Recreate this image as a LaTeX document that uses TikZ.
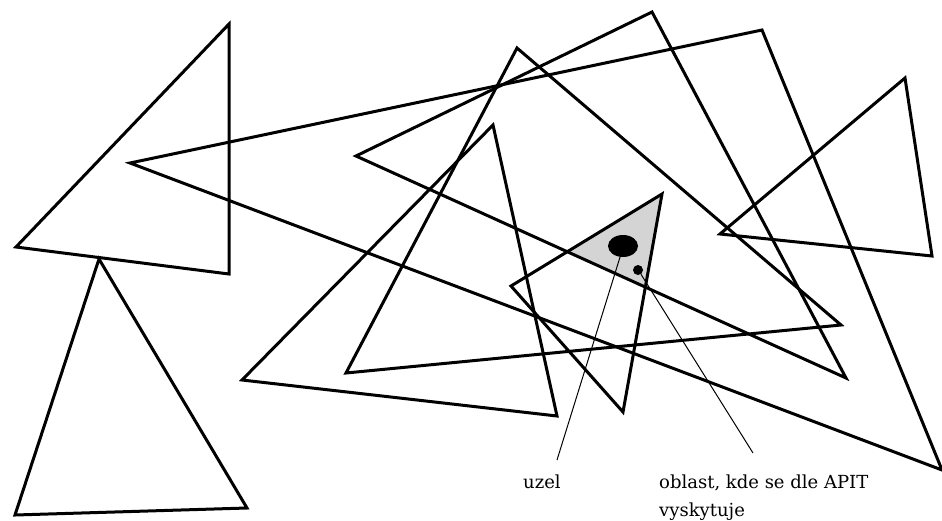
\documentclass[tikz,border=0pt]{standalone}
\usepackage{fontspec}
\setmainfont{DejaVu Serif}
\usetikzlibrary{shapes.geometric}
\begin{document}
\begin{tikzpicture}[x=1pt,y=-1pt,
  tri/.style={draw=black,line width=3pt,line join=miter},
  leader/.style={draw=black,line width=1pt},
  lbl/.style={font=\fontsize{18}{28}\selectfont,inner sep=0pt,anchor=base west,text=black}]
\useasboundingbox[fill=white] (0,0) rectangle (942,520);
% vertices
\coordinate (a1) at (229,24);  \coordinate (a2) at (229,274); \coordinate (a3) at (16,247);
\coordinate (b1) at (99,259);  \coordinate (b2) at (15,515);  \coordinate (b3) at (247,508);
\coordinate (c1) at (130,163); \coordinate (c2) at (762,30);  \coordinate (c3) at (942,470);
\coordinate (d1) at (652,12);  \coordinate (d2) at (356,156); \coordinate (d3) at (846,378);
\coordinate (e1) at (517,48);  \coordinate (e2) at (346,373); \coordinate (e3) at (841,325);
\coordinate (f1) at (493,125); \coordinate (f2) at (242,380); \coordinate (f3) at (557,416);
\coordinate (g1) at (905,78);  \coordinate (g2) at (720,234); \coordinate (g3) at (932,256);
\coordinate (h1) at (662,194); \coordinate (h2) at (511,286); \coordinate (h3) at (623,412);
% shaded intersection region
\begin{scope}
  \clip (d1) -- (d2) -- (d3) -- cycle;
  \fill[black!17] (h1) -- (h2) -- (h3) -- cycle;
\end{scope}
% triangles
\draw[tri] (a1) -- (a2) -- (a3) -- cycle;
\draw[tri] (b1) -- (b2) -- (b3) -- cycle;
\draw[tri] (c1) -- (c2) -- (c3) -- cycle;
\draw[tri] (d1) -- (d2) -- (d3) -- cycle;
\draw[tri] (e1) -- (e2) -- (e3) -- cycle;
\draw[tri] (f1) -- (f2) -- (f3) -- cycle;
\draw[tri] (g1) -- (g2) -- (g3) -- cycle;
\draw[tri] (h1) -- (h2) -- (h3) -- cycle;
% node and region dots
\node[ellipse,fill=black,minimum width=30pt,minimum height=22pt,inner sep=0pt] (uzeldot) at (623,246) {};
\node[circle,fill=black,inner sep=0pt,minimum size=10pt] (regdot) at (638,270) {};
% labels
\node[lbl] (uzel) at (523,488) {uzel};
\node[lbl] (obl1) at (659,488) {oblast, kde se dle APIT};
\node[lbl] (obl2) at (659,516) {vyskytuje};
% leaders
\coordinate (uzelend) at (557,460);
\coordinate (oblend) at (753,453);
\draw[leader] (uzeldot.-105) -- (uzelend);
\draw[leader] (regdot.-55) -- (oblend);
\end{tikzpicture}
\end{document}
